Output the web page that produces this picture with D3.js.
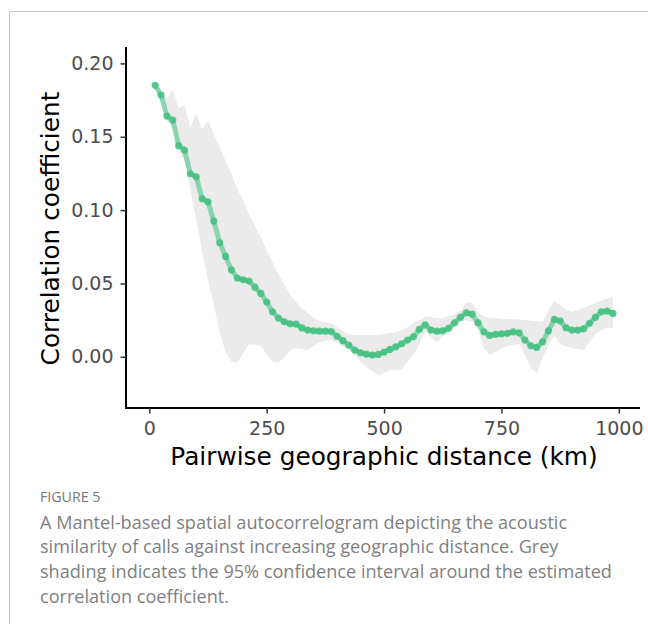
<!DOCTYPE html>
<html><head><meta charset="utf-8">
<script src="https://cdn.jsdelivr.net/npm/d3@7"></script>
<style>
html,body{margin:0;padding:0;background:#fff;}
svg{display:block;}
</style></head>
<body>
<svg id="chart" width="648" height="624"></svg>
<script>
// Lag distances (km)
const distances = [12.5,25,37.5,50,62.5,75,87.5,100,112.5,125,137.5,150,162.5,175,187.5,200,212.5,225,237.5,250,
262.5,275,287.5,300,312.5,325,337.5,350,362.5,375,387.5,400,412.5,425,437.5,450,462.5,475,487.5,500,
512.5,525,537.5,550,562.5,575,587.5,600,612.5,625,637.5,650,662.5,675,687.5,700,712.5,725,737.5,750,
762.5,775,787.5,800,812.5,825,837.5,850,862.5,875,887.5,900,912.5,925,937.5,950,962.5,975,987.5];
// Mantel correlation coefficient
const correlation = [0.1851,0.1784,0.1641,0.1614,0.1439,0.1409,0.1248,0.1227,0.1077,0.1057,
0.0925,0.0777,0.0684,0.0591,0.0537,0.0525,0.0516,0.0475,0.0432,0.0373,
0.0307,0.0264,0.0239,0.0225,0.0223,0.0197,0.0182,0.0177,0.0175,0.0175,
0.0172,0.0140,0.0110,0.0080,0.0046,0.0027,0.0018,0.0012,0.0016,0.0032,
0.0050,0.0068,0.0089,0.0114,0.0136,0.0187,0.0218,0.0182,0.0175,0.0177,
0.0194,0.0232,0.0269,0.0300,0.0291,0.0232,0.0170,0.0146,0.0153,0.0157,
0.0160,0.0170,0.0164,0.0114,0.0075,0.0064,0.0102,0.0177,0.0255,0.0245,
0.0198,0.0182,0.0182,0.0191,0.0228,0.0269,0.0307,0.0312,0.0296];
// 95% CI upper bound
const ciUpper = [0.1870,0.1798,0.1760,0.1822,0.1694,0.1716,0.1564,0.1660,0.1550,0.1614,
0.1514,0.1432,0.1334,0.1246,0.1143,0.1062,0.0973,0.0891,0.0816,0.0727,
0.0646,0.0564,0.0496,0.0421,0.0373,0.0332,0.0298,0.0267,0.0243,0.0237,
0.0228,0.0202,0.0170,0.0155,0.0148,0.0148,0.0148,0.0148,0.0148,0.0155,
0.0162,0.0168,0.0182,0.0202,0.0230,0.0250,0.0271,0.0271,0.0264,0.0264,
0.0277,0.0291,0.0312,0.0368,0.0366,0.0305,0.0277,0.0267,0.0264,0.0260,
0.0257,0.0257,0.0255,0.0250,0.0247,0.0243,0.0239,0.0318,0.0380,0.0352,
0.0325,0.0307,0.0318,0.0332,0.0349,0.0366,0.0383,0.0397,0.0409];
// 95% CI lower bound
const ciLower = [0.1830,0.1766,0.1600,0.1568,0.1400,0.1336,0.1137,0.0932,0.0714,0.0523,
0.0352,0.0162,0.0032,-0.0034,-0.0043,0.0025,0.0087,0.0083,0.0073,0.0018,
-0.0034,-0.0043,-0.0002,0.0046,0.0057,0.0052,0.0046,0.0073,0.0100,0.0110,
0.0114,0.0093,0.0066,0.0046,0.0012,-0.0036,-0.0070,-0.0098,-0.0125,-0.0111,
-0.0091,-0.0091,-0.0084,-0.0036,0.0018,0.0080,0.0168,0.0134,0.0100,0.0141,
0.0175,0.0202,0.0237,0.0250,0.0239,0.0182,0.0059,0.0012,0.0032,0.0059,
0.0070,0.0080,0.0087,0.0012,-0.0077,-0.0111,-0.0009,0.0080,0.0141,0.0087,
0.0070,0.0059,0.0052,0.0046,0.0100,0.0155,0.0182,0.0202,0.0194];
const xTicks = [0,250,500,750,1000];
const yTicks = [0,0.05,0.10,0.15,0.20];
const captionTitle = "FIGURE 5";
const captionLines = [
  "A Mantel-based spatial autocorrelogram depicting the acoustic",
  "similarity of calls against increasing geographic distance. Grey",
  "shading indicates the 95% confidence interval around the estimated",
  "correlation coefficient."
];

const data = distances.map((d,i)=>({d, r:correlation[i], lo:ciLower[i], hi:ciUpper[i]}));

const svg = d3.select("#chart");
const pLeft = 126, pRight = 640, pTop = 47, pBottom = 408;
const x = d3.scaleLinear().domain([-49.6,1045]).range([pLeft,pRight]);
const y = d3.scaleLinear().domain([-0.0349,0.2112]).range([pBottom,pTop]);

// frame
svg.append("path").attr("d","M9.5,624 L9.5,11.5 L648,11.5").attr("fill","none").attr("stroke","#c4c4c4").attr("stroke-width",1);

// ribbon
svg.append("path").datum(data)
  .attr("d", d3.area().x(d=>x(d.d)).y0(d=>y(d.lo)).y1(d=>y(d.hi)))
  .attr("fill","#ebebeb");

// line
svg.append("path").datum(data)
  .attr("d", d3.line().x(d=>x(d.d)).y(d=>y(d.r)))
  .attr("fill","none").attr("stroke","#3cbf7c").attr("stroke-opacity",0.55)
  .attr("stroke-width",5).attr("stroke-linejoin","round").attr("stroke-linecap","round");

// points
svg.append("g").selectAll("circle").data(data).join("circle")
  .attr("cx",d=>x(d.d)).attr("cy",d=>y(d.r)).attr("r",3.6)
  .attr("fill","#3cbf7c").attr("fill-opacity",0.8);

// axes
const fontFam = "'DejaVu Sans', sans-serif";
const xAxis = svg.append("g").attr("transform",`translate(0,${pBottom})`)
  .call(d3.axisBottom(x).tickValues(xTicks).tickFormat(d3.format("d")).tickSizeOuter(0).tickSize(5.5).tickPadding(8));
const yAxis = svg.append("g").attr("transform",`translate(${pLeft},0)`)
  .call(d3.axisLeft(y).tickValues(yTicks).tickFormat(d3.format(".2f")).tickSizeOuter(0).tickSize(5.5).tickPadding(7));
[xAxis,yAxis].forEach(g=>{
  g.select(".domain").attr("stroke","#000").attr("stroke-width",2);
  g.selectAll(".tick line").attr("stroke","#333").attr("stroke-width",1.5);
  g.selectAll(".tick text").attr("fill","#4d4d4d").style("font-family",fontFam).style("font-size","19px");
});
xAxis.select(".domain").attr("d",`M${pLeft-1},0H${pRight}`);
yAxis.select(".domain").attr("d",`M0,${pTop}V${pBottom+1}`);

// titles
svg.append("text").attr("x",(pLeft+pRight)/2+1).attr("y",465).attr("text-anchor","middle")
  .style("font-family",fontFam).style("font-size","24.8px").attr("fill","#000")
  .text("Pairwise geographic distance (km)");
svg.append("text").attr("transform",`translate(59,${(pTop+pBottom)/2+1}) rotate(-90)`).attr("text-anchor","middle")
  .style("font-family",fontFam).style("font-size","24.8px").attr("fill","#000")
  .text("Correlation coefficient");

// caption
const capFont = "'Open Sans', Lato, sans-serif";
svg.append("text").attr("x",40).attr("y",502).style("font-family",capFont).style("font-size","14.2px")
  .attr("fill","#777").text(captionTitle);
svg.append("g").selectAll("text").data(captionLines).join("text")
  .attr("x",40).attr("y",(d,i)=>528.5+i*24.7)
  .style("font-family",capFont).style("font-size","18.1px").attr("fill","#808080")
  .text(d=>d);
</script>
</body></html>
